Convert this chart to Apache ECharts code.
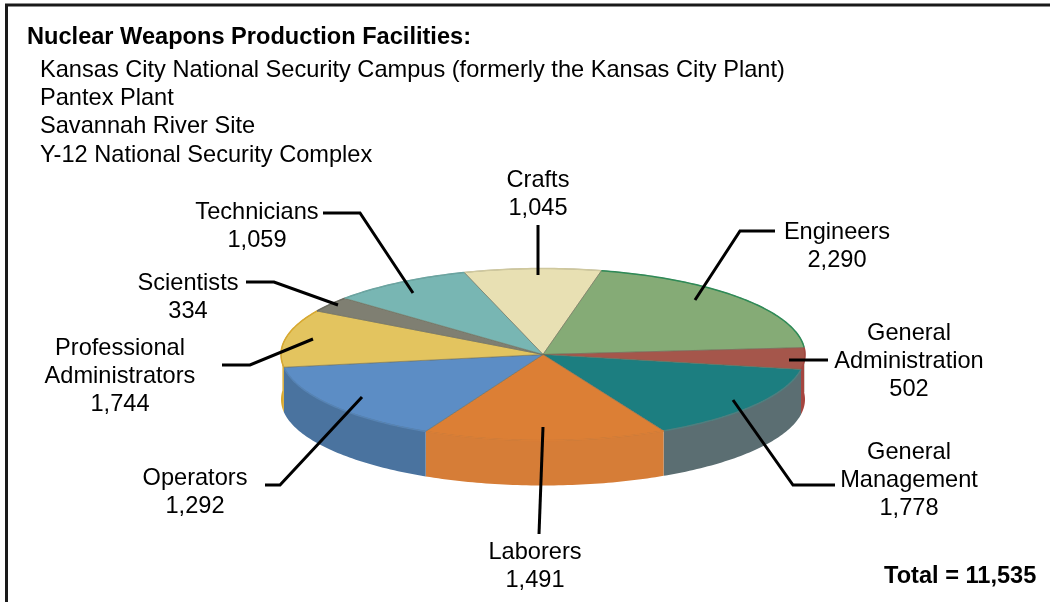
<!DOCTYPE html>
<html>
<head>
<meta charset="utf-8">
<title>Nuclear Weapons Production Facilities</title>
<script src="https://cdn.jsdelivr.net/npm/echarts@6/dist/echarts.min.js"></script>
<style>
  html, body { margin: 0; padding: 0; background: #fff; }
  #chart { width: 1050px; height: 602px; }
</style>
</head>
<body>
<div id="chart"></div>
<script>
// printed on the chart
const categories = ['Crafts', 'Engineers', 'General Administration', 'General Management', 'Laborers', 'Operators', 'Professional Administrators', 'Scientists', 'Technicians']
const printedValues = [1045, 2290, 502, 1778, 1491, 1292, 1744, 334, 1059]
const titleText = 'Nuclear Weapons Production Facilities:'
const siteNames = ['Kansas City National Security Campus (formerly the Kansas City Plant)', 'Pantex Plant', 'Savannah River Site', 'Y-12 National Security Complex']
const totalText = 'Total = 11,535'

// wedge sizes in degrees as they were measured on the picture, the 3d pie
// there does not follow the printed numbers (blue and yellow look swapped)
const wedgeDegrees = [30.4, 72.5, 14.6, 52.6, 54, 54.9, 38.9, 10.4, 31.7]
const firstWedgeStart = 342.5

const faceColors = ['#e8e0b3', '#85ab76', '#a5564b', '#1c7e80', '#dc7f35', '#5c8dc5', '#e3c45f', '#7f7f72', '#78b6b3']
const wallColors = ['#c9c193', '#2e8b57', '#a5453f', '#5b6e72', '#d67d37', '#4a739f', '#d9a92f', '#6b6b60', '#6aa5a2']
const rimColors = ['#cfc89e', '#2e8b57', '#a5453f', '#4d7f80', '#d97e36', '#5583b5', '#d9a92f', '#6b6b60', '#6aa5a2']

const pie = { cx: 543, cy: 354.5, rx: 262, ry: 86, depth: 45 }
const font = '"Liberation Sans", Arial, sans-serif'
const textSize = 23.6
const lineStep = 28.4

// x, y of the first text line, then the leader line
const labelLayout = [
  { x: 538, y: 180, leader: [[538, 225], [538, 275]] },
  { x: 837, y: 232, leader: [[775, 231], [740, 231], [695, 300]] },
  { x: 909, y: 333, leader: [[828, 360], [789, 360]] },
  { x: 909, y: 452, leader: [[835, 485], [793, 485], [733, 400]] },
  { x: 535, y: 552, leader: [[539, 534], [543, 427]] },
  { x: 195, y: 478, leader: [[265, 485], [280, 485], [362, 397]] },
  { x: 120, y: 348, leader: [[222, 365], [250, 365], [313, 339]] },
  { x: 188, y: 283, leader: [[246, 282], [274, 282], [338, 305]] },
  { x: 257, y: 212, leader: [[323, 213], [360, 213], [413, 293]] }
]

function rimPoint(deg, drop) {
  const a = deg * Math.PI / 180
  return [pie.cx + pie.rx * Math.sin(a), pie.cy - pie.ry * Math.cos(a) + (drop || 0)]
}

function arcPoints(from, to, drop) {
  const pts = []
  for (let d = from; d < to; d += 1) pts.push(rimPoint(d, drop))
  pts.push(rimPoint(to, drop))
  return pts
}

// start and end angle of every wedge
const wedges = []
let angle = firstWedgeStart
wedgeDegrees.forEach(function (size) {
  wedges.push([angle, angle + size])
  angle += size
})

function renderPie(params) {
  const i = params.dataIndex
  const start = wedges[i][0]
  const end = wedges[i][1]
  const children = []

  // outer wall, only the part on the near side of the disc
  for (const shift of [0, 360]) {
    const from = Math.max(start, 84 + shift)
    const to = Math.min(end, 276 + shift)
    if (from < to) {
      const top = arcPoints(from, to, 0)
      const bottom = arcPoints(from, to, pie.depth).reverse()
      children.push({
        type: 'polygon',
        shape: { points: top.concat(bottom) },
        style: { fill: wallColors[i] }
      })
    }
  }

  // top face
  children.push({
    type: 'polygon',
    shape: { points: [[pie.cx, pie.cy]].concat(arcPoints(start, end, 0)) },
    style: { fill: faceColors[i], stroke: 'rgba(110,110,90,0.55)', lineWidth: 1 }
  })
  // rim line
  children.push({
    type: 'polyline',
    shape: { points: arcPoints(start, end, 0) },
    style: { fill: 'none', stroke: rimColors[i], lineWidth: 1.5 }
  })
  return { type: 'group', children: children }
}

const graphics = []

// frame, only left and top are inside the picture
graphics.push({
  type: 'polyline',
  shape: { points: [[6.5, 602], [6.5, 5], [1050, 5]] },
  style: { fill: 'none', stroke: '#1a1a1a', lineWidth: 3 }
})

graphics.push({
  type: 'text', left: 27, top: 25,
  style: { text: titleText, font: 'bold ' + textSize + 'px ' + font, fill: '#000' }
})
siteNames.forEach(function (name, i) {
  graphics.push({
    type: 'text', left: 40, top: 58 + i * lineStep,
    style: { text: name, font: textSize + 'px ' + font, fill: '#000' }
  })
})
graphics.push({
  type: 'text', left: 884, top: 564,
  style: { text: totalText, font: 'bold ' + textSize + 'px ' + font, fill: '#000' }
})

const labelLines = {
  'General Administration': ['General', 'Administration'],
  'General Management': ['General', 'Management'],
  'Professional Administrators': ['Professional', 'Administrators']
}

categories.forEach(function (name, i) {
  const place = labelLayout[i]
  const lines = (labelLines[name] || [name]).concat(printedValues[i].toLocaleString('en-US'))
  lines.forEach(function (line, n) {
    graphics.push({
      type: 'text', x: place.x, y: place.y + n * lineStep, z: 5,
      style: { text: line, font: textSize + 'px ' + font, fill: '#000', align: 'center', verticalAlign: 'middle' }
    })
  })
  graphics.push({
    type: 'polyline', z: 5,
    shape: { points: place.leader },
    style: { fill: 'none', stroke: '#000', lineWidth: 3 }
  })
})

const myChart = echarts.init(document.getElementById('chart'), null, { renderer: 'canvas' })
const option = {
  animation: false,
  backgroundColor: '#fff',
  graphic: graphics,
  series: [
    {
      type: 'custom',
      coordinateSystem: 'none',
      renderItem: renderPie,
      data: categories.map(function (name, i) { return { name: name, value: wedgeDegrees[i] } })
    }
  ]
}
myChart.setOption(option)
</script>
</body>
</html>
